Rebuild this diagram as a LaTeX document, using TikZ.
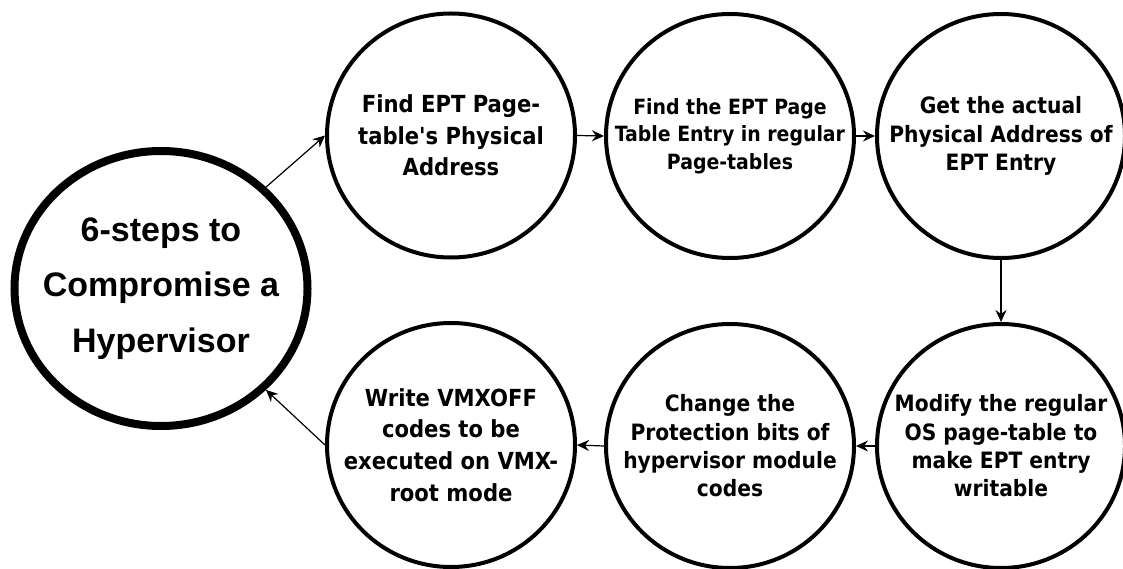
\documentclass[tikz,border=0pt]{standalone}
\usepackage{fontspec}
\setmainfont{Liberation Sans}
\newfontfamily\tah{DejaVu Sans Condensed}
\usetikzlibrary{shapes.geometric,arrows.meta}
\begin{document}
\begin{tikzpicture}[x=1pt,y=-1pt,
  stepnode/.style={ellipse,draw=black,fill=white,line width=4pt,minimum width=248pt,minimum height=244pt,inner sep=0pt},
  bignode/.style={ellipse,draw=black,fill=white,line width=8pt,minimum width=293pt,minimum height=275pt,inner sep=0pt},
  bigtext/.style={align=center,inner sep=0pt,font=\bfseries\fontsize{34}{55.5}\selectfont},
  txtA/.style={align=center,inner sep=0pt,font=\tah\bfseries\fontsize{23.5}{31.7}\selectfont},
  txtB/.style={align=center,inner sep=0pt,font=\tah\bfseries\fontsize{22.5}{28.3}\selectfont},
  txtC/.style={align=center,inner sep=0pt,font=\tah\bfseries\fontsize{21}{27.5}\selectfont},
  flow/.style={line width=1.2pt,-{Stealth[length=12pt,width=11pt,inset=4pt]}}]
\useasboundingbox (0,0) rectangle (1123,569);

\node[bignode,label={[bigtext]center:6-steps to\\Compromise a\\Hypervisor}] (big) at (161,288.5) {};

\node[stepnode,label={[txtA]center:Find EPT Page-\\table's Physical\\Address}] (c1) at (451,135.5) {};
\node[stepnode,label={[txtC]center:Find the EPT Page\\Table Entry in regular\\Page-tables}] (c2) at (730,136) {};
\node[stepnode,label={[txtB]center:Get the actual\\Physical Address of\\EPT Entry}] (c3) at (1001,136) {};
\node[stepnode,label={[txtB]center:Modify the regular\\OS page-table to\\make EPT entry\\writable}] (c6) at (1001,446) {};
\node[stepnode,label={[txtB]center:Change the\\Protection bits of\\hypervisor module\\codes}] (c5) at (730,446) {};
\node[stepnode,label={[txtA]center:Write VMXOFF\\codes to be\\executed on VMX-\\root mode}] (c4) at (451,445) {};

\draw[flow] (big.44) -- (c1.west);
\draw[flow] (c1.east) -- (c2.west);
\draw[flow] (c2.east) -- (c3.west);
\draw[flow] (c3.south) -- (c6.north);
\draw[flow] (c6.west) -- (c5.east);
\draw[flow] (c5.west) -- (c4.east);
\draw[flow] (c4.west) -- (big.-44);
\end{tikzpicture}
\end{document}
